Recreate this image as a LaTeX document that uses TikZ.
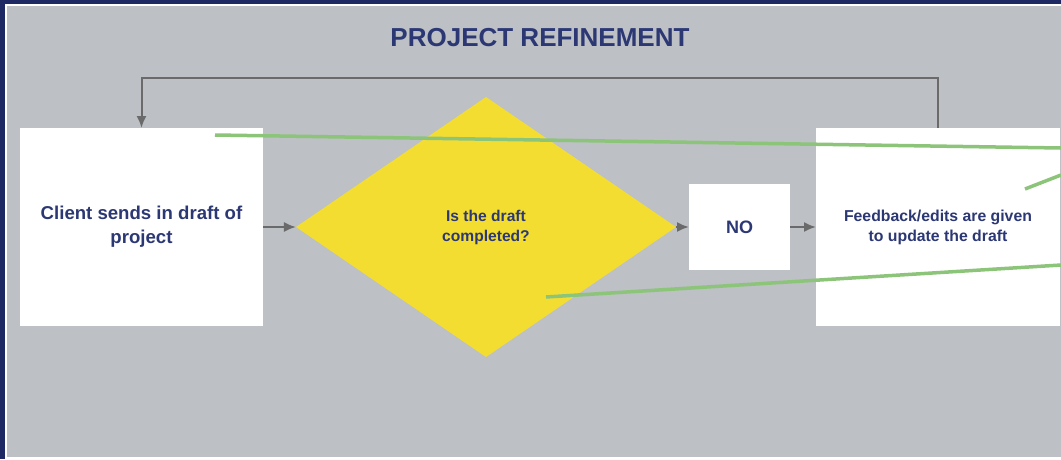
\documentclass[tikz,border=0pt]{standalone}
\usepackage{fontspec}
\setmainfont{Liberation Sans}
\usetikzlibrary{positioning, calc, shapes.geometric, arrows.meta}

\definecolor{navyframe}{HTML}{1E2862}
\definecolor{slidegray}{HTML}{BDC0C4}
\definecolor{decisionyellow}{HTML}{F4DD31}
\definecolor{strokegreen}{HTML}{8CC47A}
\definecolor{flowgray}{HTML}{6A6A6A}
\definecolor{textnavy}{HTML}{2C3874}

\tikzset{
	stepbox/.style={draw=none, fill=white, inner sep=0pt, outer sep=0pt, align=center, text=textnavy, font=\bfseries},
	flow/.style={draw=flowgray, line width=2pt, -{Latex[length=12pt, width=10pt]}},
	scribble/.style={draw=strokegreen, line width=3.5pt}
}

\begin{document}
\begin{tikzpicture}[x=1pt, y=-1pt]
	\useasboundingbox (0, 0) rectangle (1061, 459);
	\fill[navyframe] (0, 0) rectangle (1061, 459);
	\fill[white] (5, 3.5) rectangle (1061, 459);
	\fill[slidegray] (7, 5.5) rectangle (1061, 457);

	\node[text=textnavy, font=\fontsize{26}{30}\selectfont\bfseries] (title) at (540, 38) {PROJECT REFINEMENT};

	\node[stepbox, minimum width=243pt, minimum height=198pt, font=\fontsize{18.6}{24}\selectfont\bfseries] (client) at (141.5, 227) {Client sends in draft of\\project};
	\node[diamond, fill=decisionyellow, inner sep=0pt, outer sep=0pt, minimum width=380pt, minimum height=260pt, align=center, text=textnavy, font=\fontsize{15.6}{20}\selectfont\bfseries] (check) at (486, 227) {Is the draft\\completed?};
	\node[stepbox, minimum width=101pt, minimum height=86pt, font=\fontsize{18}{21}\selectfont\bfseries] (no) at (739.5, 227) {NO};
	\node[stepbox, minimum width=244pt, minimum height=198pt, font=\fontsize{15.8}{20}\selectfont\bfseries] (feedback) at (938, 227) {Feedback/edits are given\\to update the draft};

	\draw[flow] (client) -- (check);
	\draw[flow] (check) -- (no);
	\draw[flow] (no) -- (feedback);
	\draw[flow] (feedback.north) |- ([yshift=50pt]client.north) -- (client.north);

	% loose green strokes
	\draw[scribble] (215, 135) -- (1061, 148);
	\draw[scribble] (1025, 189) -- (1061, 175);
	\draw[scribble] (546, 297) -- (1061, 265);
\end{tikzpicture}
\end{document}
